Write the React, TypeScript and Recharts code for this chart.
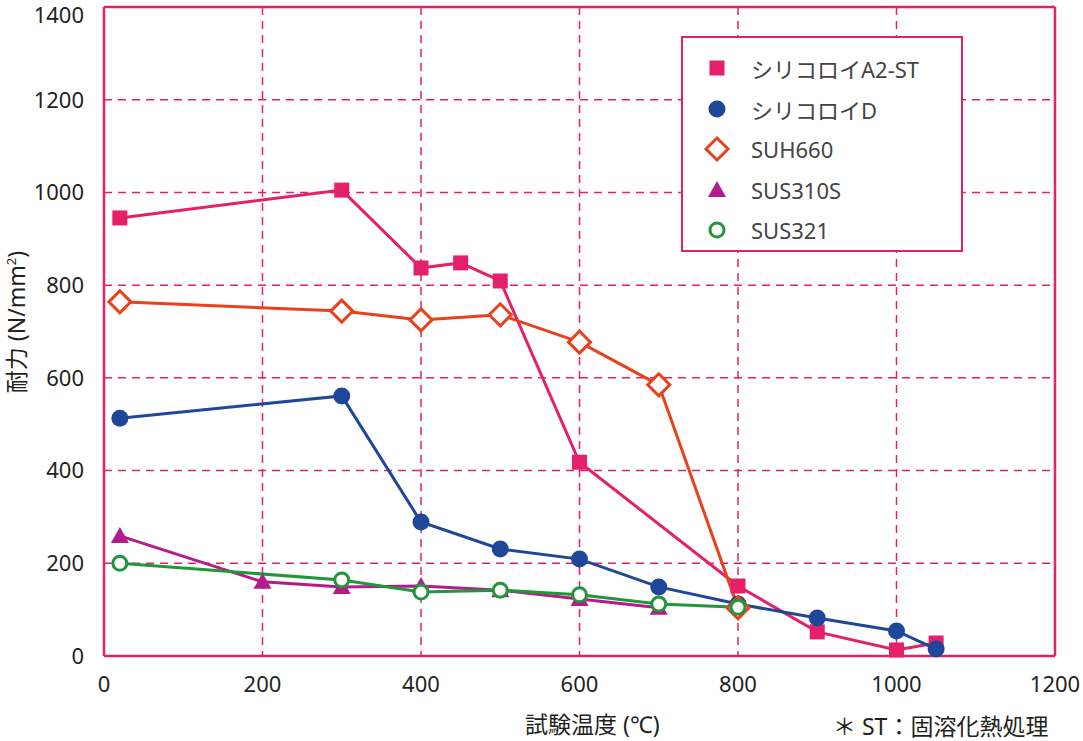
import React from "react";
import {
  CartesianGrid,
  Line,
  LineChart,
  ReferenceLine,
  XAxis,
  YAxis
} from "recharts";

const PINK = "#e5206b";
const BLUE = "#1f4799";
const ORANGE = "#e8411c";
const PURPLE = "#b31c8c";
const GREEN = "#22963a";
const INK = "#231f20";

const xTicks = [0, 200, 400, 600, 800, 1000, 1200];
const yTicks = [0, 200, 400, 600, 800, 1000, 1200, 1400];

const a2stTemps = [20, 300, 400, 450, 500, 600, 800, 900, 1000, 1050];
const a2stValues = [945, 1005, 837, 848, 809, 418, 151, 52, 13, 28];

const dTemps = [20, 300, 400, 500, 600, 700, 800, 900, 1000, 1050];
const dValues = [513, 561, 289, 231, 209, 149, 112, 82, 54, 15];

const suh660Temps = [20, 300, 400, 500, 600, 700, 800];
const suh660Values = [764, 744, 725, 736, 677, 585, 104];

const sus310sTemps = [20, 200, 300, 400, 500, 600, 700];
const sus310sValues = [259, 160, 149, 151, 142, 123, 104];

const sus321Temps = [20, 300, 400, 500, 600, 700, 800];
const sus321Values = [200, 164, 138, 142, 132, 112, 105];

const toRows = (temps: number[], values: number[]) =>
  temps.map((t, i) => ({ t, v: values[i] }));

type Shape = "square" | "circle" | "diamond" | "triangle" | "ring";

function Marker({ shape, color, cx, cy }: { shape: Shape; color: string; cx: number; cy: number }) {
  switch (shape) {
    case "square":
      return <rect x={cx - 7.5} y={cy - 7.5} width={15} height={15} fill={color} />;
    case "circle":
      return <circle cx={cx} cy={cy} r={8.5} fill={color} />;
    case "diamond":
      return (
        <polygon
          points={`${cx},${cy - 11} ${cx + 11},${cy} ${cx},${cy + 11} ${cx - 11},${cy}`}
          fill="#fff"
          stroke={color}
          strokeWidth={3}
        />
      );
    case "triangle":
      return <polygon points={`${cx},${cy - 9} ${cx + 9},${cy + 7} ${cx - 9},${cy + 7}`} fill={color} />;
    default:
      return <circle cx={cx} cy={cy} r={7} fill="#fff" stroke={color} strokeWidth={3} />;
  }
}

const series = [
  { name: "シリコロイA2-ST", color: PINK, shape: "square" as Shape, data: toRows(a2stTemps, a2stValues) },
  { name: "シリコロイD", color: BLUE, shape: "circle" as Shape, data: toRows(dTemps, dValues) },
  { name: "SUH660", color: ORANGE, shape: "diamond" as Shape, data: toRows(suh660Temps, suh660Values) },
  { name: "SUS310S", color: PURPLE, shape: "triangle" as Shape, data: toRows(sus310sTemps, sus310sValues) },
  { name: "SUS321", color: GREEN, shape: "ring" as Shape, data: toRows(sus321Temps, sus321Values) }
];

const font = "'Noto Sans', 'Noto Sans CJK JP', sans-serif";

// keep the top tick label inside the picture
function YTick({ x, y, payload }: any) {
  return (
    <text x={x} y={Math.max(y, 15)} dy="0.355em" textAnchor="end" fill={INK} fontSize={22} fontFamily={font}>
      {payload.value}
    </text>
  );
}

function LegendBox() {
  return (
    <div
      style={{
        position: "absolute",
        left: 681,
        top: 36,
        background: "#fff",
        border: `2px solid ${PINK}`,
        width: 282,
        height: 216,
        boxSizing: "border-box",
        padding: "10px 0 0 20px",
        fontFamily: font,
        fontSize: 22,
        color: "#444"
      }}
    >
      {series.map((s) => (
        <div key={s.name} style={{ display: "flex", alignItems: "center", height: 40.5 }}>
          <svg width={28} height={28} style={{ marginRight: 20 }}>
            <Marker shape={s.shape} color={s.color} cx={14} cy={14} />
          </svg>
          <span>{s.name}</span>
        </div>
      ))}
    </div>
  );
}

export default function App() {
  return (
    <div style={{ position: "absolute", left: 0, top: 0, width: 1083, height: 741, background: "#fff", fontFamily: font }}>
      <LineChart width={1083} height={741} margin={{ top: 7, right: 28, bottom: 45, left: 30 }}>
        <CartesianGrid stroke={PINK} strokeWidth={1.5} strokeDasharray="8 6" />
        <XAxis
          type="number"
          dataKey="t"
          domain={[0, 1200]}
          ticks={xTicks}
          interval={0}
          height={40}
          axisLine={{ stroke: PINK, strokeWidth: 2.5 }}
          tickLine={false}
          tick={{ fill: INK, fontSize: 22, fontFamily: font }}
          tickMargin={14}
        />
        <YAxis
          type="number"
          domain={[0, 1400]}
          ticks={yTicks}
          interval={0}
          width={74}
          axisLine={{ stroke: PINK, strokeWidth: 2.5 }}
          tickLine={false}
          tick={<YTick />}
          tickMargin={14}
        />
        <ReferenceLine x={1200} stroke={PINK} strokeWidth={2.5} />
        <ReferenceLine y={1400} stroke={PINK} strokeWidth={2.5} />
        {series.map((s) => (
          <Line
            key={s.name}
            name={s.name}
            data={s.data}
            dataKey="v"
            type="linear"
            stroke={s.color}
            strokeWidth={3}
            isAnimationActive={false}
            dot={(p: any) => <Marker key={`${s.name}-${p.index}`} shape={s.shape} color={s.color} cx={p.cx} cy={p.cy} />}
          />
        ))}
      </LineChart>
      <LegendBox />
      <div
        style={{
          position: "absolute",
          left: 15,
          top: 322,
          transform: "translate(-50%, -50%) rotate(-90deg)",
          fontSize: 23,
          color: INK,
          whiteSpace: "nowrap"
        }}
      >
        耐力 (N/mm<sup style={{ fontSize: 13 }}>2</sup>)
      </div>
      <div style={{ position: "absolute", left: 525, top: 706, fontSize: 23, color: INK, whiteSpace: "nowrap" }}>
        試験温度 (℃)
      </div>
      <div style={{ position: "absolute", left: 833, top: 708, fontSize: 23, color: INK, whiteSpace: "nowrap" }}>
        ＊ ST：固溶化熱処理
      </div>
    </div>
  );
}
